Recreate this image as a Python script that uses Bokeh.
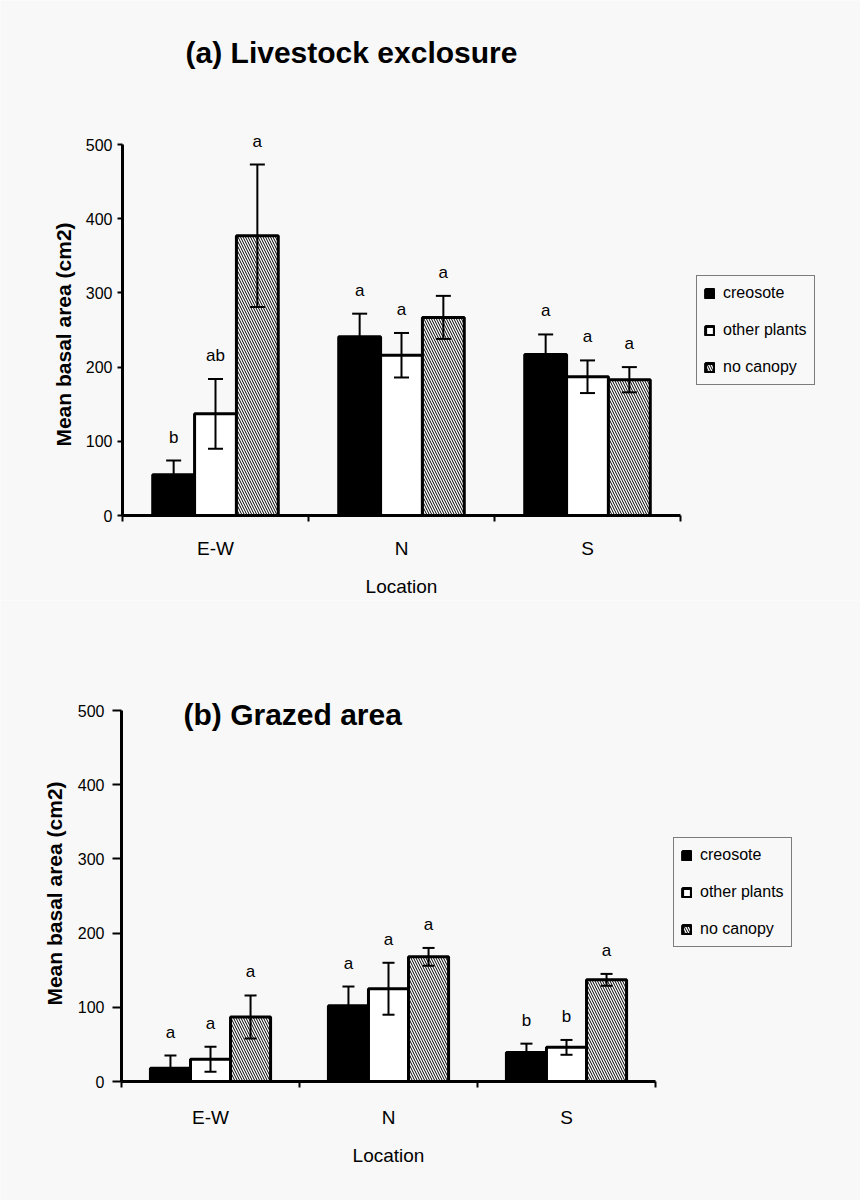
import math
from bokeh.plotting import figure
from bokeh.models import (Range1d, FixedTicker, ColumnDataSource, Legend, LegendItem,
                          Whisker, TeeHead, Label)
from bokeh.layouts import column
from bokeh.embed import file_html
from bokeh.resources import INLINE
from bokeh.core.properties import value

# ---------------- data ----------------
locations = ["E-W", "N", "S"]
series = ["creosote", "other plants", "no canopy"]

# (a) Livestock exclosure
excl_creosote = [55, 241, 217]
excl_creosote_err = [19, 31, 27]
excl_other = [137, 216, 187]
excl_other_err = [47, 30, 22]
excl_nocanopy = [377, 267, 183]
excl_nocanopy_err = [96, 29, 17]
excl_letters_creosote = ["b", "a", "a"]
excl_letters_other = ["ab", "a", "a"]
excl_letters_nocanopy = ["a", "a", "a"]

# (b) Grazed area
graz_creosote = [18, 102, 39]
graz_creosote_err = [17, 26, 12]
graz_other = [30, 125, 46]
graz_other_err = [17, 35, 10]
graz_nocanopy = [87, 168, 137]
graz_nocanopy_err = [29, 12, 8]
graz_letters_creosote = ["a", "a", "b"]
graz_letters_other = ["a", "a", "b"]
graz_letters_nocanopy = ["a", "a", "a"]

y_ticks = [0, 100, 200, 300, 400, 500]
y_label = "Mean basal area (cm2)"
x_label = "Location"

# ---------------- style ----------------
W = 860
BG = "#f8f8f8"
FONT = "Liberation Sans"
PX_Y = 371 / 500.0
BAR_W = 0.225
OFFS = [-BAR_W, 0.0, BAR_W]


def bar_style(k):
    if k == 0:
        return dict(fill_color="black", line_color="black", line_width=3)
    if k == 1:
        return dict(fill_color="white", line_color="black", line_width=3)
    return dict(fill_color="white", line_color="black", line_width=3,
                hatch_pattern="\\", hatch_color="black", hatch_scale=5, hatch_weight=1)


def make_panel(title, title_page, title_align, means, errs, letters, page_top, height,
               axis_x, unit_x, axis_y, legend_page, ytick_out, ytick_standoff,
               xlab_standoff, ylabel_page, xlabel_page, cap):
    page_bottom = page_top + height
    p = figure(width=W, height=height,
               x_range=Range1d(-axis_x / unit_x, (W - axis_x) / unit_x),
               y_range=Range1d(-(page_bottom - axis_y) / PX_Y, (axis_y - page_top) / PX_Y),
               output_backend="svg", toolbar_location=None, min_border=0)
    p.background_fill_color = BG
    p.border_fill_color = BG
    p.outline_line_color = None
    p.xgrid.visible = False
    p.ygrid.visible = False

    def dx(px):
        return (px - axis_x) / unit_x

    def dy(py):
        return (axis_y - py) / PX_Y

    renderers = []
    for k in range(3):
        xs = [i + 0.5 + OFFS[k] for i in range(len(locations))]
        src = ColumnDataSource(dict(
            x=xs, top=means[k],
            upper=[m + e for m, e in zip(means[k], errs[k])],
            lower=[m - e for m, e in zip(means[k], errs[k])],
            lab=letters[k]))
        r = p.vbar(x="x", top="top", bottom=0, width=BAR_W, source=src, **bar_style(k))
        renderers.append(r)
        wh = Whisker(source=src, base="x", upper="upper", lower="lower",
                     dimension="height", line_color="black", line_width=2, level="overlay",
                     upper_head=TeeHead(size=cap, line_width=2, line_color="black"),
                     lower_head=TeeHead(size=cap, line_width=2, line_color="black"))
        p.add_layout(wh)
        p.text(x="x", y="upper", text="lab", source=src, text_align="center",
               text_baseline="bottom", y_offset=-14, text_color="black",
               text_font=value(FONT), text_font_size="17px")

    # title
    p.add_layout(Label(x=dx(title_page[0]), y=dy(title_page[1]), text=title,
                       text_align=title_align, text_baseline="middle", text_font=FONT,
                       text_font_size="30px", text_font_style="bold", text_color="black"))

    # axis titles
    p.add_layout(Label(x=dx(ylabel_page[0]), y=dy(ylabel_page[1]), text=y_label,
                       angle=math.pi / 2, text_align="center", text_baseline="middle",
                       text_font=FONT, text_font_size="21px", text_font_style="bold",
                       text_color="black"))
    p.add_layout(Label(x=dx(xlabel_page[0]), y=dy(xlabel_page[1]), text=x_label,
                       text_align="center", text_baseline="middle",
                       text_font=FONT, text_font_size="19px", text_color="black"))

    # y axis (drawn at x = 0)
    ya = p.yaxis[0]
    ya.fixed_location = 0
    ya.ticker = FixedTicker(ticks=y_ticks)
    ya.bounds = (0, 500)
    ya.axis_line_width = 3
    ya.axis_line_color = "black"
    ya.major_tick_line_width = 2
    ya.major_tick_line_color = "black"
    ya.major_tick_out = ytick_out
    ya.major_tick_in = 0
    ya.minor_tick_line_color = None
    ya.major_label_standoff = ytick_standoff
    ya.major_label_text_font = FONT
    ya.major_label_text_font_size = "16px"
    ya.major_label_text_color = "black"

    # x axis (drawn at y = 0): labels at group centres, tick marks at group boundaries
    xa = p.xaxis[0]
    xa.fixed_location = 0
    centers = [i + 0.5 for i in range(len(locations))]
    xa.ticker = FixedTicker(ticks=centers, minor_ticks=list(range(len(locations) + 1)))
    xa.major_label_overrides = {c: lab for c, lab in zip(centers, locations)}
    xa.bounds = (0, len(locations))
    xa.axis_line_width = 3
    xa.axis_line_color = "black"
    xa.major_tick_out = 0
    xa.major_tick_in = 0
    xa.minor_tick_out = 6
    xa.minor_tick_in = 0
    xa.minor_tick_line_width = 2
    xa.minor_tick_line_color = "black"
    xa.major_label_standoff = xlab_standoff
    xa.major_label_text_font = FONT
    xa.major_label_text_font_size = "19px"
    xa.major_label_text_color = "black"

    legend = Legend(items=[LegendItem(label=s, renderers=[r]) for s, r in zip(series, renderers)],
                    location=(legend_page[0], page_bottom - legend_page[1]),
                    border_line_color="black", border_line_width=1,
                    background_fill_color=BG, background_fill_alpha=1.0,
                    label_text_font=FONT, label_text_font_size="16px", label_text_color="black",
                    glyph_width=11, glyph_height=11, label_height=20, spacing=17,
                    padding=7, margin=0, label_standoff=8)
    p.add_layout(legend)
    return p


p1 = make_panel("(a) Livestock exclosure", (351, 52), "center",
                [excl_creosote, excl_other, excl_nocanopy],
                [excl_creosote_err, excl_other_err, excl_nocanopy_err],
                [excl_letters_creosote, excl_letters_other, excl_letters_nocanopy],
                page_top=0, height=600, axis_x=122, unit_x=186, axis_y=515,
                legend_page=(696, 385), ytick_out=5, ytick_standoff=5,
                xlab_standoff=16, ylabel_page=(63, 334), xlabel_page=(401, 586), cap=15)

p2 = make_panel("(b) Grazed area", (183, 714), "left",
                [graz_creosote, graz_other, graz_nocanopy],
                [graz_creosote_err, graz_other_err, graz_nocanopy_err],
                [graz_letters_creosote, graz_letters_other, graz_letters_nocanopy],
                page_top=600, height=600, axis_x=121, unit_x=178, axis_y=1081,
                legend_page=(673, 947), ytick_out=9, ytick_standoff=8,
                xlab_standoff=19, ylabel_page=(54, 893), xlabel_page=(388, 1155), cap=12)

layout = column(p1, p2)
open("out.html", "w").write(file_html(layout, INLINE))
